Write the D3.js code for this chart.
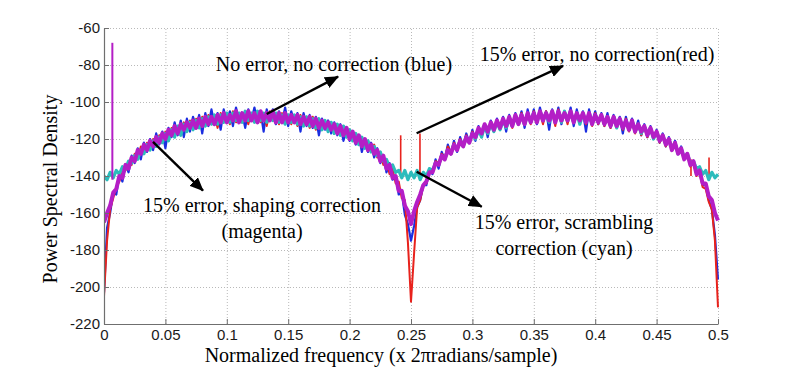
<!DOCTYPE html>
<html>
<head>
<meta charset="utf-8">
<script src="https://cdn.jsdelivr.net/npm/d3@7"></script>
<style>
  body { margin: 0; background: #fff; }
  svg { display: block; }
</style>
</head>
<body>
<script>
const svgWidth = 794;
const svgHeight = 374;
const margin = {top: 28, right: 76, bottom: 50, left: 104};

// frequency grid of the PSD (normalized, 0 .. 0.5)
const freqStep = 0.0025;
const freqCount = 201;

const xTicks = [0, 0.05, 0.1, 0.15, 0.2, 0.25, 0.3, 0.35, 0.4, 0.45, 0.5];
const yTicks = [-220, -200, -180, -160, -140, -120, -100, -80, -60];

// PSD values (dB), one per frequency bin
const blueNoError = [
  -203, -168, -160, -149, -150, -139, -143, -134, -138, -129,
  -133, -125, -131, -122, -127, -120, -126, -117, -123, -116,
  -125, -114, -119, -111, -118, -110, -119, -109, -116, -108,
  -113, -107, -117, -106, -113, -104, -112, -106, -115, -104,
  -111, -105, -113, -103, -110, -106, -114, -104, -110, -103,
  -111, -105, -116, -104, -110, -104, -112, -105, -111, -103,
  -113, -105, -111, -106, -116, -106, -113, -107, -114, -108,
  -118, -109, -115, -110, -117, -111, -118, -112, -121, -114,
  -121, -116, -123, -118, -127, -120, -127, -122, -130, -125,
  -133, -129, -138, -133, -142, -140, -150, -149, -161, -166,
  -175,
  -167, -157, -153, -145, -145, -136, -139, -131, -136, -127,
  -131, -123, -128, -121, -127, -119, -124, -117, -122, -115,
  -121, -113, -118, -112, -119, -110, -116, -109, -115, -108,
  -116, -107, -113, -106, -112, -105, -114, -104, -111, -104,
  -112, -103, -110, -105, -115, -104, -111, -103, -112, -105,
  -110, -103, -113, -104, -111, -105, -116, -104, -111, -105,
  -112, -106, -113, -106, -114, -107, -112, -108, -117, -108,
  -115, -109, -116, -110, -118, -112, -119, -113, -120, -115,
  -122, -117, -124, -119, -126, -121, -128, -124, -131, -128,
  -134, -132, -139, -137, -145, -145, -153, -158, -172, -196
];

const redNoCorrection = [
  -205, -175, -158, -152, -146, -143, -138, -137, -132, -134,
  -128, -130, -124, -128, -122, -125, -120, -124, -118, -122,
  -116, -120, -114, -118, -113, -117, -111, -116, -110, -115,
  -109, -114, -108, -113, -107, -112, -107, -114, -106, -111,
  -106, -112, -105, -111, -106, -111, -105, -112, -106, -110,
  -105, -111, -106, -113, -105, -110, -106, -112, -106, -111,
  -107, -112, -107, -113, -107, -112, -108, -114, -108, -115,
  -109, -115, -110, -116, -111, -117, -112, -118, -113, -119,
  -115, -121, -117, -123, -119, -125, -121, -127, -123, -130,
  -127, -134, -131, -139, -136, -144, -143, -152, -153, -176,
  -208,
  -182, -157, -153, -145, -144, -137, -138, -132, -133, -128,
  -130, -124, -127, -122, -125, -120, -123, -118, -122, -116,
  -120, -114, -119, -113, -117, -111, -116, -110, -114, -109,
  -113, -108, -114, -107, -112, -106, -111, -106, -112, -105,
  -111, -106, -112, -105, -110, -106, -113, -104, -111, -106,
  -112, -105, -110, -106, -111, -106, -112, -107, -113, -106,
  -112, -107, -113, -108, -114, -108, -114, -109, -115, -109,
  -116, -111, -117, -112, -118, -113, -119, -114, -120, -116,
  -122, -118, -124, -120, -126, -122, -128, -125, -131, -128,
  -135, -132, -140, -138, -146, -147, -154, -158, -175, -211
];

const cyanScrambling = [
  -140, -142, -138, -141, -137, -139, -135, -136, -132, -133,
  -129, -131, -126, -128, -123, -126, -121, -124, -119, -122,
  -117, -121, -115, -119, -113, -118, -112, -116, -111, -115,
  -110, -114, -109, -113, -108, -112, -107, -112, -107, -111,
  -106, -111, -106, -110, -106, -111, -105, -110, -106, -111,
  -105, -110, -106, -111, -106, -110, -106, -111, -107, -112,
  -107, -111, -107, -112, -108, -113, -108, -113, -109, -114,
  -109, -115, -110, -116, -111, -117, -112, -118, -113, -119,
  -115, -121, -117, -123, -119, -125, -121, -127, -124, -129,
  -127, -132, -131, -135, -134, -138, -137, -141, -137, -142,
  -138,
  -141, -137, -142, -138, -140, -136, -137, -133, -134, -129,
  -131, -126, -128, -123, -126, -121, -124, -119, -122, -117,
  -120, -115, -119, -113, -117, -112, -116, -111, -115, -110,
  -114, -109, -113, -108, -112, -107, -112, -107, -111, -106,
  -111, -106, -110, -106, -111, -105, -110, -106, -111, -105,
  -110, -106, -111, -106, -112, -106, -111, -107, -112, -107,
  -111, -107, -112, -108, -113, -108, -114, -109, -114, -110,
  -115, -110, -116, -112, -117, -113, -118, -114, -120, -116,
  -121, -118, -123, -120, -125, -122, -128, -125, -130, -128,
  -133, -132, -136, -135, -139, -137, -142, -138, -141, -139
];

const magentaShaping = [
  -165, -160, -156, -149, -147, -140, -141, -134, -136, -130,
  -132, -126, -128, -123, -126, -121, -124, -119, -122, -117,
  -120, -115, -118, -113, -117, -112, -115, -111, -114, -110,
  -114, -109, -113, -108, -112, -108, -112, -107, -111, -106,
  -111, -107, -110, -105, -111, -106, -110, -105, -110, -106,
  -111, -105, -110, -106, -110, -105, -111, -106, -111, -106,
  -111, -107, -111, -107, -112, -108, -112, -108, -113, -109,
  -114, -110, -114, -111, -115, -112, -117, -113, -118, -114,
  -120, -116, -122, -118, -124, -120, -126, -123, -128, -126,
  -132, -129, -136, -134, -141, -140, -148, -148, -156, -159,
  -166,
  -159, -154, -150, -145, -143, -138, -138, -133, -134, -129,
  -131, -126, -128, -123, -126, -121, -124, -119, -122, -117,
  -119, -114, -117, -112, -116, -111, -115, -110, -114, -109,
  -113, -108, -113, -107, -112, -107, -112, -106, -111, -106,
  -111, -105, -110, -106, -110, -105, -111, -105, -110, -106,
  -110, -105, -111, -106, -110, -106, -111, -106, -112, -107,
  -111, -107, -112, -108, -113, -108, -113, -109, -114, -110,
  -115, -110, -116, -112, -116, -113, -118, -114, -119, -116,
  -121, -118, -123, -120, -126, -122, -128, -125, -131, -128,
  -134, -132, -139, -137, -144, -144, -151, -153, -160, -164
];

// narrow tones (spurs)
const redToneFreq = [0.2416, 0.2573, 0.4780, 0.4927];
const redToneTop = [-118, -117, -131, -130];
const redToneBase = [-141, -140, -140, -141];
const magentaToneFreq = [0.0068];
const magentaToneTop = [-68];
const magentaToneBase = [-142];

const seriesNames = ['blue', 'red', 'cyan', 'magenta'];
const seriesValues = [blueNoError, redNoCorrection, cyanScrambling, magentaShaping];
const seriesColors = ['#1b2ee0', '#e8221c', '#2cbcbc', '#b41ec6'];
const seriesWidths = [2.2, 2, 3.2, 4];

// annotations, placed in data units (f, dB)
const labelLines = [
  {text: 'No error, no correction (blue)', f: 0.1873, db: -83.2},
  {text: '15% error, no correction(red)', f: 0.4015, db: -77.8},
  {text: '15% error, shaping correction', f: 0.1287, db: -159.5},
  {text: '(magenta)', f: 0.1287, db: -173.5},
  {text: '15% error, scrambling', f: 0.3746, db: -168.6},
  {text: 'correction (cyan)', f: 0.3746, db: -182.7}
];
const arrowFrom = [[0.1325, -106.5], [0.2546, -116.9], [0.0399, -121.5], [0.2546, -137.7]];
const arrowTo = [[0.1906, -86.3], [0.3738, -80.5], [0.0806, -147.9], [0.3076, -156.6]];

const svg = d3.select('body')
  .append('svg')
  .attr('width', svgWidth)
  .attr('height', svgHeight);

const x = d3.scaleLinear()
  .domain([0, 0.5])
  .range([margin.left, svgWidth - margin.right]);

const y = d3.scaleLinear()
  .domain([-220, -60])
  .range([svgHeight - margin.bottom, margin.top]);

// dotted grid
const grid = svg.append('g')
  .attr('stroke', '#b9b9b9')
  .attr('stroke-width', 1)
  .attr('stroke-dasharray', '1,2');

grid.selectAll('.vgrid')
  .data(xTicks.slice(1))
  .enter()
  .append('line')
  .attr('x1', d => x(d) + 0.5)
  .attr('x2', d => x(d) + 0.5)
  .attr('y1', y(-220))
  .attr('y2', y(-60));

grid.selectAll('.hgrid')
  .data(yTicks.slice(1))
  .enter()
  .append('line')
  .attr('x1', x(0))
  .attr('x2', x(0.5))
  .attr('y1', d => y(d) + 0.5)
  .attr('y2', d => y(d) + 0.5);

svg.append('clipPath')
  .attr('id', 'plotclip')
  .append('rect')
  .attr('x', x(0))
  .attr('y', y(-60))
  .attr('width', x(0.5) - x(0) + 2)
  .attr('height', y(-220) - y(-60));

const plot = svg.append('g').attr('clip-path', 'url(#plotclip)');

const line = d3.line()
  .x((d, i) => x(i * freqStep))
  .y(d => y(d));

// tones of the red trace sit under cyan and magenta
function drawTones(freqs, tops, bases, color, width) {
  plot.append('g')
    .selectAll('line')
    .data(freqs)
    .enter()
    .append('line')
    .attr('x1', d => x(d))
    .attr('x2', d => x(d))
    .attr('y1', (d, i) => y(bases[i]))
    .attr('y2', (d, i) => y(tops[i]))
    .attr('stroke', color)
    .attr('stroke-width', width);
}

seriesValues.forEach((vals, s) => {
  plot.append('path')
    .datum(vals)
    .attr('class', 'psd-' + seriesNames[s])
    .attr('fill', 'none')
    .attr('stroke', seriesColors[s])
    .attr('stroke-width', seriesWidths[s])
    .attr('stroke-linejoin', 'round')
    .attr('d', line);
  if (seriesNames[s] === 'red') {
    drawTones(redToneFreq, redToneTop, redToneBase, seriesColors[1], 1.6);
  }
});
drawTones(magentaToneFreq, magentaToneTop, magentaToneBase, seriesColors[3], 2);

// axes (MATLAB style: ticks inward, no box)
const fmtX = d => String(+d.toFixed(2));
const xAxis = svg.append('g')
  .attr('transform', `translate(0,${y(-220)})`)
  .call(d3.axisBottom(x).tickValues(xTicks).tickFormat(fmtX).tickSizeInner(-5).tickSizeOuter(0).tickPadding(5));

const yAxis = svg.append('g')
  .attr('transform', `translate(${x(0)},0)`)
  .call(d3.axisLeft(y).tickValues(yTicks).tickFormat(d => String(d)).tickSizeInner(-5).tickSizeOuter(0).tickPadding(4));

[xAxis, yAxis].forEach(ax => {
  ax.select('.domain').attr('stroke', '#6f6f6f').attr('stroke-width', 1.2);
  ax.selectAll('.tick line').attr('stroke', '#6f6f6f');
  ax.selectAll('.tick text')
    .attr('fill', '#1a1a1a')
    .style('font-family', 'Arial, "Liberation Sans", sans-serif')
    .style('font-size', '15px');
});

// axis titles
const serif = '"Times New Roman", "Liberation Serif", serif';

svg.append('text')
  .attr('x', 381)
  .attr('y', 362)
  .attr('text-anchor', 'middle')
  .style('font-family', serif)
  .style('font-size', '20px')
  .text('Normalized frequency (x 2\u03c0radians/sample)');

svg.append('text')
  .attr('transform', 'translate(57,189) rotate(-90)')
  .attr('text-anchor', 'middle')
  .style('font-family', serif)
  .style('font-size', '20px')
  .text('Power Spectral Density');

// arrows
const defs = svg.append('defs');
defs.append('marker')
  .attr('id', 'arrowhead')
  .attr('markerUnits', 'userSpaceOnUse')
  .attr('viewBox', '0 0 14 12')
  .attr('refX', 13)
  .attr('refY', 6)
  .attr('markerWidth', 14)
  .attr('markerHeight', 12)
  .attr('orient', 'auto')
  .append('path')
  .attr('d', 'M0,0L14,6L0,12Z')
  .attr('fill', '#000');

svg.append('g')
  .selectAll('line')
  .data(arrowFrom)
  .enter()
  .append('line')
  .attr('x1', d => x(d[0]))
  .attr('y1', d => y(d[1]))
  .attr('x2', (d, i) => x(arrowTo[i][0]))
  .attr('y2', (d, i) => y(arrowTo[i][1]))
  .attr('stroke', '#000')
  .attr('stroke-width', 2.4)
  .attr('marker-end', 'url(#arrowhead)');

svg.append('g')
  .selectAll('text')
  .data(labelLines)
  .enter()
  .append('text')
  .attr('x', d => x(d.f))
  .attr('y', d => y(d.db))
  .attr('text-anchor', 'middle')
  .style('font-family', serif)
  .style('font-size', '20px')
  .attr('fill', '#000')
  .text(d => d.text);
</script>
</body>
</html>
